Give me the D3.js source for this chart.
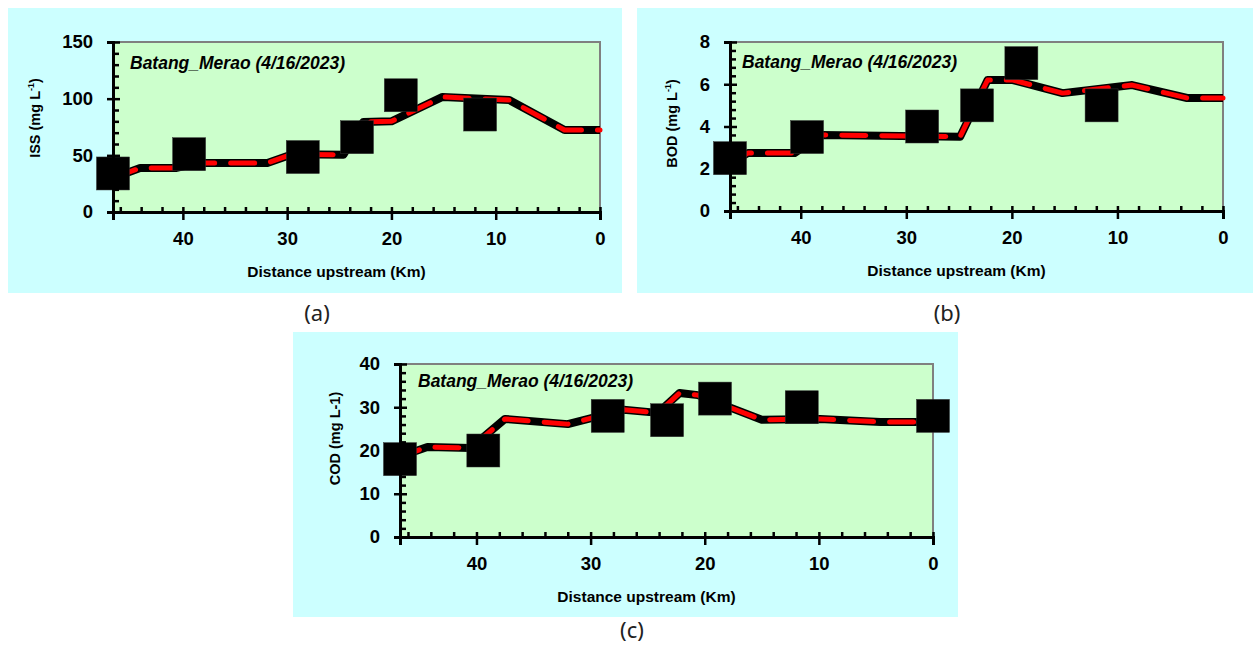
<!DOCTYPE html>
<html>
<head>
<meta charset="utf-8">
<script src="https://cdn.jsdelivr.net/npm/d3@7"></script>
<style>
  body { margin: 0; background: #fff; }
  svg { display: block; font-family: "Liberation Sans", Arial, sans-serif; }
</style>
</head>
<body>
<svg id="chart" width="1254" height="647"></svg>
<script>
// distances (km upstream) of the observed samples
const obsKm = [46.7, 39.4, 28.5, 23.3, 19.1, 11.5, 0]

// ISS panel
const issObs = [34, 51, 48.5, 66, 103, 86]
const issModelKm = [46.7, 44.1, 40.7, 38.6, 31.9, 29.5, 24.6, 22.7, 20, 15.1, 8.7, 3.4, 0]
const issModel = [30, 38.8, 38.8, 43.2, 43.2, 51, 50.5, 79.4, 80, 101.5, 98.8, 72.3, 72.3]

// BOD panel
const bodObs = [2.5, 3.5, 4.0, 5.0, 7.0, 5.0]
const bodModelKm = [46.7, 45, 40.6, 38.1, 24.9, 22.3, 19.9, 15.2, 8.6, 3.4, 0]
const bodModel = [2.27, 2.74, 2.74, 3.6, 3.52, 6.2, 6.2, 5.58, 5.96, 5.35, 5.35]

// COD panel
const codObs = [18, 20, 28, 27, 32, 30, 28]
const codModelKm = [46.7, 45.5, 44.3, 40.5, 37.5, 32, 27.1, 24.1, 22.2, 20.6, 15, 9.9, 4.6, 0]
const codModel = [17, 19.7, 20.8, 20.6, 27.3, 26.1, 29.4, 28.7, 33.3, 32.8, 27.1, 27.3, 26.6, 26.6]

const xTicks = [40, 30, 20, 10, 0]
const xMinor = [46, 44, 42, 38, 36, 34, 32, 28, 26, 24, 22, 18, 16, 14, 12, 8, 6, 4, 2]

const svg = d3.select("#chart")

// One panel: background box, plot box, axes, model line, observed squares
const drawPanel = (cfg) => {
  const g = svg.append("g")

  g.append("rect")
    .attr("x", cfg.box[0]).attr("y", cfg.box[1])
    .attr("width", cfg.box[2] - cfg.box[0]).attr("height", cfg.box[3] - cfg.box[1])
    .attr("fill", "#ccffff")

  const [l, t, r, b] = cfg.plot
  const x = d3.scaleLinear().domain([46.7, 0]).range([l, r])
  const y = d3.scaleLinear().domain([0, cfg.yMax]).range([b, t])

  g.append("rect")
    .attr("x", l).attr("y", t).attr("width", r - l).attr("height", b - t)
    .attr("fill", "#ccffcc")

  // grey frame on top and right
  g.append("path")
    .attr("d", `M${l},${t}H${r}V${b}`)
    .attr("fill", "none").attr("stroke", "#808080").attr("stroke-width", 2)

  // title inside plot
  g.append("text")
    .attr("x", l + cfg.titleDx).attr("y", t + cfg.titleDy)
    .attr("font-size", 17.5).attr("font-weight", "bold").attr("font-style", "italic")
    .text("Batang_Merao (4/16/2023)")

  // model line: thick black under red dashes
  const line = d3.line().x(d => x(d[0])).y(d => y(d[1]))
  const pts = cfg.modelKm.map((k, i) => [k, cfg.model[i]])
  g.append("path").datum(pts)
    .attr("d", line).attr("fill", "none")
    .attr("stroke", "#000").attr("stroke-width", 8).attr("stroke-linejoin", "round")
  g.append("path").datum(pts)
    .attr("d", line).attr("fill", "none")
    .attr("stroke", "#ff0000").attr("stroke-width", 5)
    .attr("stroke-linecap", "round").attr("stroke-linejoin", "round")
    .attr("stroke-dasharray", "24 16")

  // observed squares
  const obs = cfg.obs.map((v, i) => [obsKm[i], v])
  const s = 33
  g.append("g").selectAll("rect").data(obs).join("rect")
    .attr("x", d => x(d[0]) - s / 2).attr("y", d => y(d[1]) - s / 2)
    .attr("width", s).attr("height", s)
    .attr("fill", "#000").attr("stroke", "#333").attr("stroke-width", 0.5)

  // y axis: labels + outer part of major ticks
  const yAx = g.append("g").attr("transform", `translate(${l},0)`)
  yAx.call(d3.axisLeft(y).tickValues(cfg.yTicks).tickSize(6).tickPadding(14))
  yAx.selectAll("text").attr("font-size", 18.5).attr("font-weight", "bold").attr("fill", "#000")
  // inner part of major ticks and minor ticks
  g.append("g").attr("transform", `translate(${l},0)`)
    .call(d3.axisRight(y).tickValues(cfg.yTicks).tickSize(7).tickFormat(""))
    .call(a => a.select(".domain").remove())
  g.append("g").attr("transform", `translate(${l},0)`)
    .call(d3.axisRight(y).tickValues(cfg.yMinor).tickSize(6).tickFormat(""))
    .call(a => a.select(".domain").remove())

  // x axis
  const xAx = g.append("g").attr("transform", `translate(0,${b})`)
  xAx.call(d3.axisBottom(x).tickValues(xTicks).tickSize(8).tickPadding(12))
  xAx.selectAll("text").attr("font-size", 18.5).attr("font-weight", "bold").attr("fill", "#000")
  g.append("g").attr("transform", `translate(0,${b})`)
    .call(d3.axisTop(x).tickValues(xTicks).tickSize(5).tickFormat(""))
    .call(a => a.select(".domain").remove())
  g.append("g").attr("transform", `translate(0,${b})`)
    .call(d3.axisTop(x).tickValues(xMinor).tickSize(5).tickFormat(""))
    .call(a => a.select(".domain").remove())

  g.selectAll(".domain").attr("stroke", "#000").attr("stroke-width", 3)
  g.selectAll(".tick line").attr("stroke", "#000").attr("stroke-width", 2.5)

  // axis titles
  g.append("text")
    .attr("x", (l + r) / 2 - 20).attr("y", b + 65)
    .attr("text-anchor", "middle").attr("font-size", 15.5).attr("font-weight", "bold")
    .text("Distance upstream (Km)")

  const yl = g.append("text")
    .attr("transform", `translate(${l - cfg.ylabelDx},${(t + b) / 2 + cfg.ylabelDy}) rotate(-90)`)
    .attr("text-anchor", "middle").attr("font-size", 14.5).attr("font-weight", "bold")
  if (cfg.sup) {
    yl.append("tspan").text(cfg.ylabel + " (mg L")
    yl.append("tspan").attr("font-size", 9).attr("dy", -6).text("-1")
    yl.append("tspan").attr("dy", 6).text(")")
  } else {
    yl.text(cfg.ylabel + " (mg L-1)")
  }

  // panel letter
  svg.append("text")
    .attr("x", cfg.letter[0]).attr("y", cfg.letter[1])
    .attr("text-anchor", "middle").attr("font-size", 22)
    .attr("font-family", "'Noto Sans', sans-serif").attr("fill", "#222")
    .text(cfg.letter[2])
}

drawPanel({
  box: [8, 8, 622, 293], plot: [113, 42, 600, 212],
  yMax: 150, yTicks: [0, 50, 100, 150], yMinor: d3.range(10, 150, 10).filter(v => v % 50),
  model: issModel, modelKm: issModelKm, obs: issObs,
  ylabel: "ISS", sup: true, ylabelDx: 73, ylabelDy: -9, titleDx: 17, titleDy: 27,
  letter: [317, 321, "(a)"]
})

drawPanel({
  box: [637, 8, 1253, 293], plot: [730, 42, 1223, 211],
  yMax: 8, yTicks: [0, 2, 4, 6, 8], yMinor: [0.4, 0.8, 1.2, 1.6, 2.4, 2.8, 3.2, 3.6, 4.4, 4.8, 5.2, 5.6, 6.4, 6.8, 7.2, 7.6],
  model: bodModel, modelKm: bodModelKm, obs: bodObs,
  ylabel: "BOD", sup: true, ylabelDx: 53, ylabelDy: -3, titleDx: 12, titleDy: 26,
  letter: [947, 321, "(b)"]
})

drawPanel({
  box: [293, 332, 958, 617], plot: [400, 364, 933, 537],
  yMax: 40, yTicks: [0, 10, 20, 30, 40], yMinor: d3.range(2, 40, 2).filter(v => v % 10),
  model: codModel, modelKm: codModelKm, obs: codObs,
  ylabel: "COD", sup: false, ylabelDx: 60, ylabelDy: -12, titleDx: 18, titleDy: 23,
  letter: [632, 638, "(c)"]
})
</script>
</body>
</html>
